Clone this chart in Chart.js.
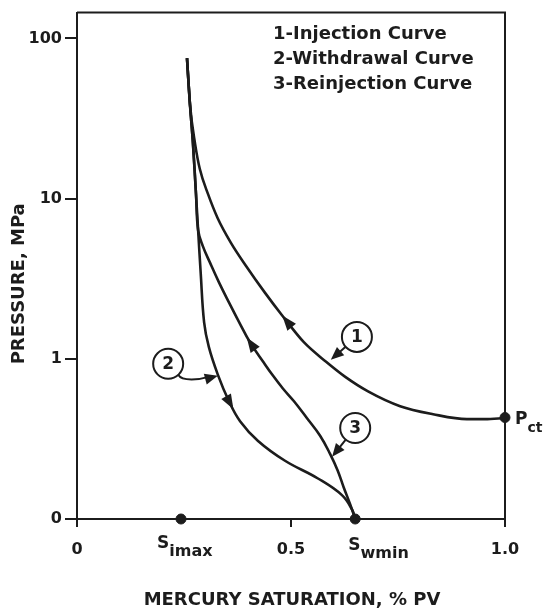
<!DOCTYPE html>
<html><head><meta charset="utf-8">
<script src="https://cdn.jsdelivr.net/npm/chart.js@4/dist/chart.umd.min.js"></script>
<style>html,body{margin:0;padding:0;background:#fff;}</style>
</head><body>
<canvas id="c" width="546" height="614"></canvas>
<script>
// ---- data ----
const injectionX   = [1.000, 0.953, 0.911, 0.832, 0.755, 0.680, 0.626, 0.582, 0.530, 0.479, 0.439, 0.395, 0.360, 0.329, 0.306, 0.287, 0.276, 0.264, 0.257];
const injectionY   = [0.427, 0.420, 0.420, 0.451, 0.506, 0.626, 0.774, 0.958, 1.27,  1.87,  2.59,  3.80,  5.28,  7.52,  10.7,  15.3,  21.9,  38.6,  75.3];
const withdrawalX  = [0.257, 0.264, 0.271, 0.278, 0.283, 0.289, 0.297, 0.308, 0.329, 0.355, 0.381, 0.423, 0.486, 0.563, 0.619, 0.643, 0.650];
const withdrawalY  = [75.3,  38.6,  21.9,  10.7,  6.35,  3.44,  1.69,  1.186, 0.797, 0.543, 0.408, 0.307, 0.231, 0.179, 0.141, 0.114, 0.100];
const reinjectionX = [0.650, 0.639, 0.623, 0.609, 0.591, 0.568, 0.537, 0.507, 0.481, 0.456, 0.435, 0.404, 0.379, 0.355, 0.332, 0.311, 0.294, 0.283, 0.278, 0.271, 0.264, 0.257];
const reinjectionY = [0.100, 0.122, 0.158, 0.201, 0.256, 0.331, 0.427, 0.543, 0.653, 0.797, 0.958, 1.27,  1.69,  2.25,  2.99,  3.97,  5.05,  6.35,  10.7,  21.9,  38.6,  75.3];
const keyPointX    = [0.243, 0.650, 1.000];          // S_imax, S_wmin, P_ct
const keyPointY    = [0.100, 0.100, 0.430];
const xTickValues  = [0, 0.5, 1.0];
const xTickLabels  = ['0', '0.5', '1.0'];
const yTickValues  = [0.1, 1, 10, 100];
const yTickLabels  = ['0', '1', '10', '100'];
const legendLines  = ['1-Injection Curve', '2-Withdrawal Curve', '3-Reinjection Curve'];
const xTitle = 'MERCURY SATURATION, % PV';
const yTitle = 'PRESSURE, MPa';

const zip = (xs, ys) => xs.map((v, i) => ({x: v, y: ys[i]}));
const INK = '#1c1c1c';
const FONT = '"DejaVu Sans", sans-serif';

// annotation placement (data-space anchors)
const curveArrows = [ // dataset index, anchor
  {ds: 0, x: 0.486, y: 1.69},
  {ds: 1, x: 0.357, y: 0.527},
  {ds: 2, x: 0.404, y: 1.24}
];
const callouts = [
  {label: '1', cx: 0.654, cy: 1.37, tx: 0.593, ty: 0.986},
  {label: '3', cx: 0.650, cy: 0.370, tx: 0.596, ty: 0.245},
  {label: '2', cx: 0.213, cy: 0.931, tx: 0.329, ty: 0.785, curved: true}
];

function arrowHead(ctx, tipX, tipY, dx, dy, len, half) {
  const n = Math.hypot(dx, dy) || 1; dx /= n; dy /= n;
  const bx = tipX - dx * len, by = tipY - dy * len;
  ctx.beginPath();
  ctx.moveTo(tipX, tipY);
  ctx.lineTo(bx - dy * half, by + dx * half);
  ctx.lineTo(bx + dy * half, by - dx * half);
  ctx.closePath(); ctx.fill();
}

const annot = {
  id: 'annot',
  afterDraw(chart) {
    const {ctx, chartArea: a, scales: {x, y}} = chart;
    const X = v => x.getPixelForValue(v), Y = v => y.getPixelForValue(v);
    ctx.save();
    ctx.strokeStyle = INK; ctx.fillStyle = INK;
    // frame top / right
    ctx.lineWidth = 2;
    ctx.beginPath(); ctx.moveTo(a.left, a.top); ctx.lineTo(a.right, a.top); ctx.lineTo(a.right, a.bottom); ctx.stroke();

    // arrowheads along curves (direction of data order)
    curveArrows.forEach(ar => {
      const pts = chart.getDatasetMeta(ar.ds).data.map(e => ({x: e.x, y: e.y}));
      const px = X(ar.x), py = Y(ar.y);
      let best = null;
      for (let i = 0; i < pts.length - 1; i++) {
        const p = pts[i], q = pts[i + 1];
        const vx = q.x - p.x, vy = q.y - p.y, L = vx * vx + vy * vy;
        let t = ((px - p.x) * vx + (py - p.y) * vy) / L; t = Math.max(0, Math.min(1, t));
        const cx = p.x + t * vx, cy = p.y + t * vy, d = Math.hypot(px - cx, py - cy);
        if (!best || d < best.d) best = {d, cx, cy, vx, vy};
      }
      const n = Math.hypot(best.vx, best.vy);
      arrowHead(ctx, best.cx + best.vx / n * 7, best.cy + best.vy / n * 7, best.vx, best.vy, 15, 5.5);
    });

    // callouts
    callouts.forEach(c => {
      const cx = X(c.cx), cy = Y(c.cy), tx = X(c.tx), ty = Y(c.ty);
      const r = 15;
      ctx.lineWidth = 2;
      ctx.beginPath(); ctx.arc(cx, cy, r, 0, Math.PI * 2);
      ctx.fillStyle = '#fff'; ctx.fill(); ctx.stroke();
      ctx.fillStyle = INK;
      ctx.font = 'bold 17px ' + FONT; ctx.textAlign = 'center'; ctx.textBaseline = 'middle';
      ctx.fillText(c.label, cx, cy + 1);
      if (c.curved) {
        const sx = cx + 10, sy = cy + 11;
        ctx.beginPath(); ctx.moveTo(sx, sy);
        ctx.bezierCurveTo(sx + 4, sy + 7, tx - 18, ty + 4, tx - 8, ty + 1);
        ctx.stroke();
        arrowHead(ctx, tx, ty, 11, -3, 13, 5.5);
      } else {
        const dx = tx - cx, dy = ty - cy, n = Math.hypot(dx, dy);
        const sx = cx + dx / n * r, sy = cy + dy / n * r;
        ctx.beginPath(); ctx.moveTo(sx, sy); ctx.lineTo(tx - dx / n * 8, ty - dy / n * 8); ctx.stroke();
        arrowHead(ctx, tx, ty, dx, dy, 13, 5.5);
      }
    });

    // legend text
    ctx.textAlign = 'left'; ctx.textBaseline = 'alphabetic';
    ctx.font = 'bold 18px ' + FONT;
    legendLines.forEach((t, i) => ctx.fillText(t, a.left + 196, a.top + 26 + i * 25));

    // point labels
    const sub = (main, subTxt, lx, by, mainSize, subSize) => {
      ctx.font = 'bold ' + mainSize + 'px ' + FONT;
      ctx.fillText(main, lx, by);
      const w = ctx.measureText(main).width;
      ctx.font = 'bold ' + subSize + 'px ' + FONT;
      ctx.fillText(subTxt, lx + w, by + 8);
    };
    sub('S', 'imax', X(keyPointX[0]) - 24, a.bottom + 29, 17, 16);
    sub('S', 'wmin', X(keyPointX[1]) - 7, a.bottom + 31, 17, 16);
    sub('P', 'ct', X(keyPointX[2]) + 10, Y(keyPointY[2]) + 6, 17, 14);

    // axis titles
    ctx.font = 'bold 18px ' + FONT;
    ctx.textAlign = 'center'; ctx.textBaseline = 'middle';
    ctx.fillText(xTitle, (a.left + a.right) / 2 + 1, 600);
    ctx.save();
    ctx.translate(19, (a.top + a.bottom) / 2 + 18);
    ctx.rotate(-Math.PI / 2);
    ctx.fillText(yTitle, 0, 0);
    ctx.restore();
    ctx.restore();
  }
};

const lineDs = (xs, ys, smooth) => Object.assign({
  data: zip(xs, ys), showLine: true, pointRadius: 0, borderColor: INK,
  borderWidth: 2.6, fill: false
}, smooth);

new Chart(document.getElementById('c'), {
  type: 'scatter',
  data: {
    datasets: [
      lineDs(injectionX, injectionY, {cubicInterpolationMode: 'monotone'}),
      lineDs(withdrawalX, withdrawalY, {tension: 0.4}),
      lineDs(reinjectionX, reinjectionY, {tension: 0.4}),
      {data: zip(keyPointX, keyPointY), pointRadius: 5, pointBackgroundColor: INK,
       pointBorderColor: INK, showLine: false, clip: false}
    ]
  },
  options: {
    responsive: false, animation: false, devicePixelRatio: 1,
    layout: {padding: {left: 0, top: 7, right: 41, bottom: 0}},
    plugins: {legend: {display: false}, tooltip: {enabled: false}},
    scales: {
      x: {
        type: 'linear', min: 0, max: 1.0,
        afterFit: s => { s.height = 95; },
        afterBuildTicks: s => { s.ticks = xTickValues.map(v => ({value: v})); },
        ticks: {color: INK, font: {family: FONT, size: 16, weight: 'bold'}, padding: 13,
                maxRotation: 0, autoSkip: false,
                callback: (v) => { const i = xTickValues.indexOf(v); return i >= 0 ? xTickLabels[i] : ''; }},
        grid: {drawOnChartArea: false, drawTicks: true, tickLength: 8, color: INK, lineWidth: 2},
        border: {display: true, color: INK, width: 2}
      },
      y: {
        type: 'logarithmic', min: 0.1, max: 145,
        afterFit: s => { s.width = 77; },
        afterBuildTicks: s => { s.ticks = yTickValues.map(v => ({value: v})); },
        ticks: {color: INK, font: {family: FONT, size: 16, weight: 'bold'}, padding: 3,
                autoSkip: false,
                callback: (v) => { const i = yTickValues.indexOf(v); return i >= 0 ? yTickLabels[i] : ''; }},
        grid: {drawOnChartArea: false, drawTicks: true, tickLength: 12, color: INK, lineWidth: 2},
        border: {display: true, color: INK, width: 2}
      }
    }
  },
  plugins: [annot]
});
</script>
</body></html>
